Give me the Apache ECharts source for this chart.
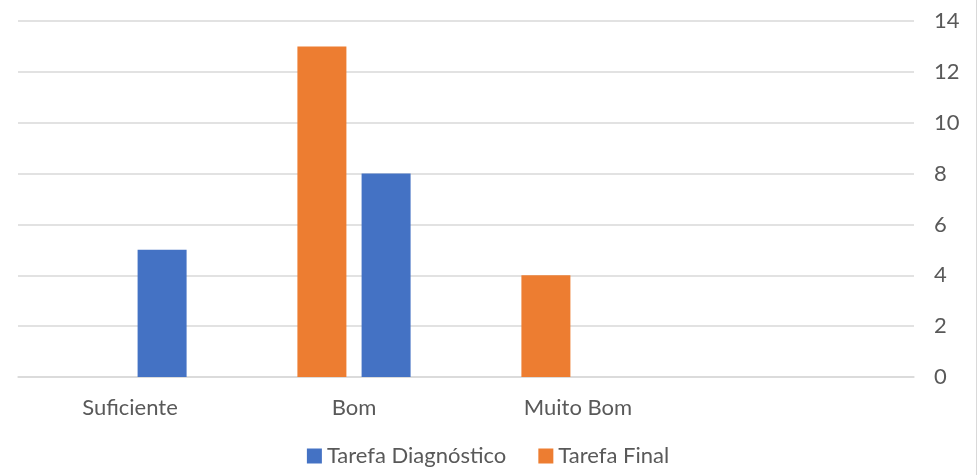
<!DOCTYPE html>
<html>
<head>
<meta charset="utf-8">
<script src="https://cdn.jsdelivr.net/npm/echarts@6/dist/echarts.min.js"></script>
<style>
  html, body { margin: 0; padding: 0; background: #fff; }
  #chart { width: 976px; height: 475px; border-right: 1px solid #d9d9d9; }
</style>
</head>
<body>
<div id="chart"></div>
<script>
// categories (last slot is empty in the original sheet)
const categories = ['Suficiente', 'Bom', 'Muito Bom', '']
const finalValues = [null, 13, 4, null]
const diagValues = [5, 8, null, null]
const yTicks = { min: 0, max: 14, interval: 2 }

const chart = echarts.init(document.getElementById('chart'))
const font = 'Lato, "Open Sans", sans-serif'

chart.setOption({
  animation: false,
  textStyle: { fontFamily: font },
  grid: {
    left: 18,
    right: 62,
    top: 21,
    bottom: 98
  },
  legend: {
    data: ['Tarefa Diagnóstico', 'Tarefa Final'],
    bottom: 3,
    left: 'center',
    itemWidth: 15,
    itemHeight: 15,
    itemGap: 32,
    icon: 'rect',
    textStyle: { color: '#595959', fontSize: 22, fontFamily: font }
  },
  xAxis: {
    type: 'category',
    data: categories,
    axisLine: { show: true, lineStyle: { color: '#d9d9d9', width: 1.5 } },
    axisTick: { show: false },
    axisLabel: { color: '#595959', fontSize: 22, margin: 20, fontFamily: font }
  },
  yAxis: {
    type: 'value',
    position: 'right',
    min: yTicks.min,
    max: yTicks.max,
    interval: yTicks.interval,
    axisLine: { show: false },
    axisTick: { show: false },
    splitLine: { lineStyle: { color: '#d9d9d9', width: 1.5 } },
    axisLabel: { color: '#595959', fontSize: 22, margin: 20, align: 'left', fontFamily: font }
  },
  series: [
    {
      name: 'Tarefa Final',
      type: 'bar',
      data: finalValues,
      barWidth: 49,
      barGap: '31%',
      itemStyle: { color: '#ED7D31' }
    },
    {
      name: 'Tarefa Diagnóstico',
      type: 'bar',
      data: diagValues,
      barWidth: 49,
      barGap: '31%',
      itemStyle: { color: '#4472C4' }
    }
  ]
})
</script>
</body>
</html>
